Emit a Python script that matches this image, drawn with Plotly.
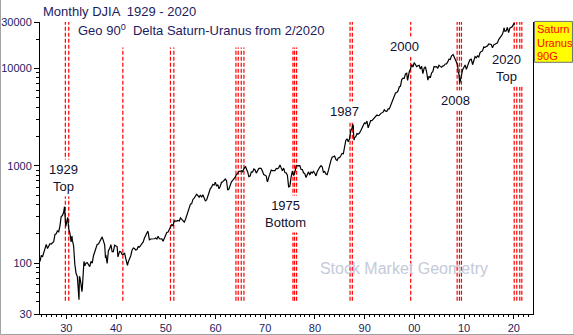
import math
import plotly.graph_objects as go

# ---------------- data ----------------
months = [
    "1924-09", "1924-11", "1924-12",
    "1925-03", "1925-06", "1925-09", "1925-12",
    "1926-03", "1926-06", "1926-09", "1926-12",
    "1927-03", "1927-06", "1927-09", "1927-12",
    "1928-03", "1928-06", "1928-09", "1928-12",
    "1929-03", "1929-06", "1929-08", "1929-09", "1929-10", "1929-11", "1929-12",
    "1930-03", "1930-04", "1930-06", "1930-09", "1930-12",
    "1931-02", "1931-03", "1931-06", "1931-09", "1931-12",
    "1932-03", "1932-05", "1932-07", "1932-08", "1932-09", "1932-12",
    "1933-02", "1933-03", "1933-06", "1933-07", "1933-09", "1933-12",
    "1934-03", "1934-06", "1934-09", "1934-12",
    "1935-03", "1935-06", "1935-09", "1935-12",
    "1936-03", "1936-06", "1936-09", "1936-12",
    "1937-03", "1937-06", "1937-09", "1937-11", "1937-12",
    "1938-03", "1938-06", "1938-09", "1938-12",
    "1939-03", "1939-06", "1939-09", "1939-12",
    "1940-03", "1940-05", "1940-06", "1940-09", "1940-12",
    "1941-03", "1941-06", "1941-09", "1941-12",
    "1942-04", "1942-06", "1942-09", "1942-12",
    "1943-03", "1943-06", "1943-09", "1943-12",
    "1944-03", "1944-06", "1944-09", "1944-12",
    "1945-03", "1945-06", "1945-09", "1945-12",
    "1946-03", "1946-05", "1946-06", "1946-09", "1946-12",
    "1947-03", "1947-06", "1947-09", "1947-12",
    "1948-03", "1948-06", "1948-09", "1948-12",
    "1949-03", "1949-06", "1949-09", "1949-12",
    "1950-03", "1950-06", "1950-09", "1950-12",
    "1951-03", "1951-06", "1951-09", "1951-12",
    "1952-03", "1952-06", "1952-09", "1952-12",
    "1953-03", "1953-06", "1953-09", "1953-12",
    "1954-03", "1954-06", "1954-09", "1954-12",
    "1955-03", "1955-06", "1955-09", "1955-12",
    "1956-03", "1956-06", "1956-09", "1956-12",
    "1957-03", "1957-06", "1957-10", "1957-12",
    "1958-03", "1958-06", "1958-09", "1958-12",
    "1959-03", "1959-06", "1959-09", "1959-12",
    "1960-03", "1960-06", "1960-09", "1960-12",
    "1961-03", "1961-06", "1961-09", "1961-12",
    "1962-03", "1962-06", "1962-09", "1962-12",
    "1963-03", "1963-06", "1963-09", "1963-12",
    "1964-03", "1964-06", "1964-09", "1964-12",
    "1965-03", "1965-06", "1965-09", "1965-12",
    "1966-01", "1966-03", "1966-06", "1966-09", "1966-12",
    "1967-03", "1967-06", "1967-09", "1967-12",
    "1968-03", "1968-06", "1968-09", "1968-12",
    "1969-03", "1969-06", "1969-09", "1969-12",
    "1970-03", "1970-05", "1970-06", "1970-09", "1970-12",
    "1971-03", "1971-06", "1971-09", "1971-12",
    "1972-03", "1972-06", "1972-09", "1972-12",
    "1973-01", "1973-03", "1973-06", "1973-09", "1973-12",
    "1974-03", "1974-06", "1974-09", "1974-12",
    "1975-03", "1975-06", "1975-09", "1975-12",
    "1976-03", "1976-06", "1976-09", "1976-12",
    "1977-03", "1977-06", "1977-09", "1977-12",
    "1978-03", "1978-06", "1978-09", "1978-12",
    "1979-03", "1979-06", "1979-09", "1979-12",
    "1980-03", "1980-06", "1980-09", "1980-12",
    "1981-03", "1981-06", "1981-09", "1981-12",
    "1982-03", "1982-06", "1982-09", "1982-12",
    "1983-03", "1983-06", "1983-09", "1983-12",
    "1984-03", "1984-06", "1984-09", "1984-12",
    "1985-03", "1985-06", "1985-09", "1985-12",
    "1986-03", "1986-06", "1986-09", "1986-12",
    "1987-03", "1987-06", "1987-08", "1987-09", "1987-10", "1987-11", "1987-12",
    "1988-03", "1988-06", "1988-09", "1988-12",
    "1989-03", "1989-06", "1989-09", "1989-12",
    "1990-03", "1990-06", "1990-09", "1990-12",
    "1991-03", "1991-06", "1991-09", "1991-12",
    "1992-03", "1992-06", "1992-09", "1992-12",
    "1993-03", "1993-06", "1993-09", "1993-12",
    "1994-03", "1994-06", "1994-09", "1994-12",
    "1995-03", "1995-06", "1995-09", "1995-12",
    "1996-03", "1996-06", "1996-09", "1996-12",
    "1997-03", "1997-06", "1997-09", "1997-12",
    "1998-03", "1998-06", "1998-08", "1998-09", "1998-12",
    "1999-03", "1999-06", "1999-09", "1999-12",
    "2000-03", "2000-06", "2000-09", "2000-12",
    "2001-03", "2001-06", "2001-09", "2001-12",
    "2002-03", "2002-06", "2002-09", "2002-12",
    "2003-03", "2003-06", "2003-09", "2003-12",
    "2004-03", "2004-06", "2004-09", "2004-12",
    "2005-03", "2005-06", "2005-09", "2005-12",
    "2006-03", "2006-06", "2006-09", "2006-12",
    "2007-03", "2007-06", "2007-10", "2007-12",
    "2008-03", "2008-06", "2008-09", "2008-10", "2008-11", "2008-12",
    "2009-02", "2009-03", "2009-06", "2009-09", "2009-12",
    "2010-03", "2010-06", "2010-09", "2010-12",
    "2011-03", "2011-06", "2011-09", "2011-12",
    "2012-03", "2012-06", "2012-09", "2012-12",
    "2013-03", "2013-06", "2013-09", "2013-12",
    "2014-03", "2014-06", "2014-09", "2014-12",
    "2015-03", "2015-06", "2015-09", "2015-12",
    "2016-03", "2016-06", "2016-09", "2016-12",
    "2017-03", "2017-06", "2017-09", "2017-12",
    "2018-01", "2018-03", "2018-06", "2018-09", "2018-12",
    "2019-03", "2019-06", "2019-09", "2019-12",
    "2020-01", "2020-02",
]

djia = [
    104, 111, 120,
    116, 131, 146, 156,
    141, 152, 158, 157,
    160, 166, 197, 200,
    214, 210, 240, 300,
    308, 333, 380, 343, 273, 238, 248,
    286, 294, 226, 204, 165,
    190, 172, 150, 97, 78,
    73, 45, 42, 73, 72, 60,
    51, 55, 98, 104, 94, 100,
    101, 96, 92, 104,
    100, 119, 131, 144,
    156, 157, 167, 180,
    186, 169, 154, 113, 121,
    99, 134, 141, 155,
    131, 131, 153, 150,
    148, 116, 122, 132, 131,
    123, 123, 127, 111,
    95, 103, 109, 119,
    136, 143, 141, 136,
    138, 148, 146, 152,
    154, 165, 181, 193,
    199, 212, 207, 172, 177,
    177, 178, 178, 181,
    177, 189, 178, 177,
    177, 168, 182, 200,
    206, 209, 226, 235,
    248, 243, 271, 269,
    270, 274, 271, 291,
    280, 268, 264, 281,
    304, 334, 361, 404,
    409, 451, 466, 488,
    511, 493, 475, 500,
    475, 503, 441, 436,
    446, 478, 532, 584,
    602, 644, 632, 679,
    617, 641, 580, 616,
    676, 684, 701, 731,
    706, 561, 579, 652,
    683, 707, 733, 763,
    813, 832, 875, 874,
    889, 868, 931, 969,
    984, 924, 870, 775, 786,
    865, 860, 927, 905,
    840, 898, 936, 944,
    935, 873, 813, 800,
    785, 700, 683, 760, 839,
    904, 891, 887, 890,
    940, 929, 953, 1020,
    1000, 951, 891, 947, 851,
    847, 802, 608, 616,
    768, 879, 794, 852,
    999, 1003, 990, 1005,
    919, 916, 847, 831,
    757, 819, 866, 805,
    862, 842, 878, 839,
    786, 868, 932, 964,
    1004, 977, 850, 875,
    823, 812, 896, 1047,
    1130, 1222, 1233, 1259,
    1165, 1132, 1207, 1212,
    1267, 1336, 1329, 1547,
    1819, 1893, 1768, 1896,
    2305, 2419, 2663, 2596, 1994, 1834, 1939,
    1989, 2142, 2113, 2169,
    2294, 2440, 2693, 2753,
    2707, 2881, 2453, 2634,
    2914, 2907, 3017, 3169,
    3236, 3319, 3272, 3301,
    3436, 3516, 3555, 3754,
    3636, 3625, 3843, 3834,
    4158, 4556, 4789, 5117,
    5588, 5655, 5882, 6448,
    6584, 7673, 7945, 7908,
    8800, 8952, 7539, 7843, 9181,
    9786, 10971, 10337, 11497,
    10922, 10448, 10651, 10788,
    9879, 10502, 8848, 10022,
    10404, 9243, 7592, 8342,
    7992, 8985, 9275, 10454,
    10358, 10435, 10080, 10783,
    10504, 10275, 10569, 10718,
    11109, 11150, 11679, 12463,
    12354, 13409, 13930, 13265,
    12263, 11350, 10851, 9325, 8829, 8776,
    7063, 7609, 8447, 9712, 10428,
    10857, 9774, 10788, 11578,
    12320, 12414, 10913, 12218,
    13212, 12880, 13437, 13104,
    14579, 14910, 15130, 16577,
    16458, 16827, 17043, 17823,
    17776, 17620, 16285, 17425,
    17685, 17930, 18308, 19763,
    20663, 21350, 22405, 24719,
    26149, 24103, 24271, 26458, 23327,
    25929, 26600, 26917, 28538,
    28256, 29200,
]

# Geo 90 degree Saturn-Uranus dates (decimal years) -- red dashed verticals
saturn_uranus = [1929.80, 1930.48,
                 1941.36,
                 1950.94, 1951.62,
                 1964.11, 1964.57, 1965.18, 1965.72,
                 1975.58, 1975.90, 1976.31,
                 1987.06, 1987.52,
                 1999.26,
                 2008.60, 2009.07, 2009.47,
                 2020.08, 2020.60, 2021.20, 2021.61]

event_labels = ["1929<br>Top", "1975<br>Bottom", "1987", "2000", "2008", "2020<br>Top"]
event_x = [1929.4, 1974.03, 1985.95, 1998.03, 2008.36, 2018.54]
event_y = [741, 321, 3650, 16870, 4733, 10190]

x_tick_vals = [1930, 1940, 1950, 1960, 1970, 1980, 1990, 2000, 2010, 2020]
x_tick_text = ["30", "40", "50", "60", "70", "80", "90", "00", "10", "20"]
y_tick_vals = [30, 100, 1000, 10000, 30000]
y_tick_text = ["30", "100", "1000", "10000", "30000"]
y_minor_vals = [m * d for d in (10, 100, 1000, 10000) for m in range(2, 10)
                if 30 <= m * d <= 30000]

assert len(months) == len(djia)

# ---------------- figure ----------------
FONT = "Arial, 'Liberation Sans', sans-serif"
NAVY = "#1c1c60"
xdec = [int(s[:4]) + (int(s[5:7]) - 0.5) / 12 for s in months]

fig = go.Figure()

# watermark (drawn as text trace)
fig.add_trace(go.Scatter(
    x=[1997.9], y=[85.3], mode="text", text=["Stock Market Geometry"],
    textfont=dict(family=FONT, size=16, color="#c4cad8"),
    textposition="middle center", hoverinfo="skip", showlegend=False))

fig.add_trace(go.Scatter(
    x=xdec, y=djia, mode="lines", line=dict(color="black", width=1.2),
    hoverinfo="skip", showlegend=False))

shapes = []
for d in saturn_uranus:
    top = 0.913 if 1935 < d < 1985 else 1.0
    shapes.append(dict(type="line", xref="x", yref="paper", x0=d, x1=d,
                       y0=0.045, y1=top, layer="below",
                       line=dict(color="#ff0000", width=1.2, dash="4px,2px")))

# legend-like yellow box on the right
shapes.append(dict(type="rect", xref="paper", yref="paper",
                   x0=1.003, x1=1.080, y0=0.862, y1=1.002,
                   fillcolor="#ffff00", line=dict(color="#707070", width=1),
                   layer="above"))
# outer grey frame (left, bottom, right)
shapes.append(dict(type="path", xref="paper", yref="paper",
                   path="M -0.0802,1.08 L -0.0802,-0.0703 L 1.0832,-0.0703 L 1.0832,1.08",
                   line=dict(color="#a0a0a0", width=1), layer="above"))

annotations = [
    dict(text="Monthly DJIA  1929 - 2020", xref="paper", yref="paper",
         x=0.002, y=1.0366, xanchor="left", yanchor="middle", showarrow=False,
         font=dict(family=FONT, size=13, color=NAVY)),
    dict(text="Geo 90<sup>0</sup>  Delta Saturn-Uranus from 2/2020",
         xref="paper", yref="paper", x=0.073, y=0.972, xanchor="left",
         yanchor="middle", showarrow=False,
         font=dict(family=FONT, size=13, color=NAVY)),
]
for t, yy in zip(["Saturn", "Uranus", "90G"], [0.976, 0.927, 0.883]):
    annotations.append(dict(text=t, xref="paper", yref="paper", x=1.005, y=yy,
                            xanchor="left", yanchor="middle", showarrow=False,
                            font=dict(family=FONT, size=11, color="#ff0000")))
for t, ex, ey in zip(event_labels, event_x, event_y):
    annotations.append(dict(text=t, x=ex, y=math.log10(ey), xref="x", yref="y",
                            yanchor="middle", xanchor="center", showarrow=False,
                            bgcolor="white", borderpad=2,
                            font=dict(family=FONT, size=13, color="#101030")))

fig.update_layout(
    width=574, height=335,
    margin=dict(l=40, r=41, t=22, b=21, pad=0, autoexpand=False),
    paper_bgcolor="white", plot_bgcolor="white",
    shapes=shapes, annotations=annotations, showlegend=False,
    font=dict(family=FONT, size=11, color=NAVY),
)
fig.update_xaxes(
    range=[1924.70, 2023.86], showgrid=False, zeroline=False, automargin=False,
    showline=True, linecolor="black", linewidth=1,
    tickmode="array", tickvals=x_tick_vals, ticktext=x_tick_text,
    ticks="outside", ticklen=4, tickcolor="black", tickwidth=1,
    tickfont=dict(family=FONT, size=11, color=NAVY),
    minor=dict(tickmode="linear", tick0=1930, dtick=1, ticks="outside",
               ticklen=2, tickcolor="black", showgrid=False),
)
fig.update_yaxes(
    type="log", range=[1.4771, 4.4771], showgrid=False, zeroline=False,
    automargin=False,
    showline=True, linecolor="black", linewidth=1, mirror=True,
    tickmode="array", tickvals=y_tick_vals, ticktext=y_tick_text,
    ticks="outside", ticklen=5, tickcolor="black", tickwidth=1,
    tickfont=dict(family=FONT, size=11, color=NAVY),
    minor=dict(tickmode="array", tickvals=y_minor_vals, ticks="outside",
               ticklen=3, tickcolor="black", showgrid=False),
)

fig.write_html("out.html")
